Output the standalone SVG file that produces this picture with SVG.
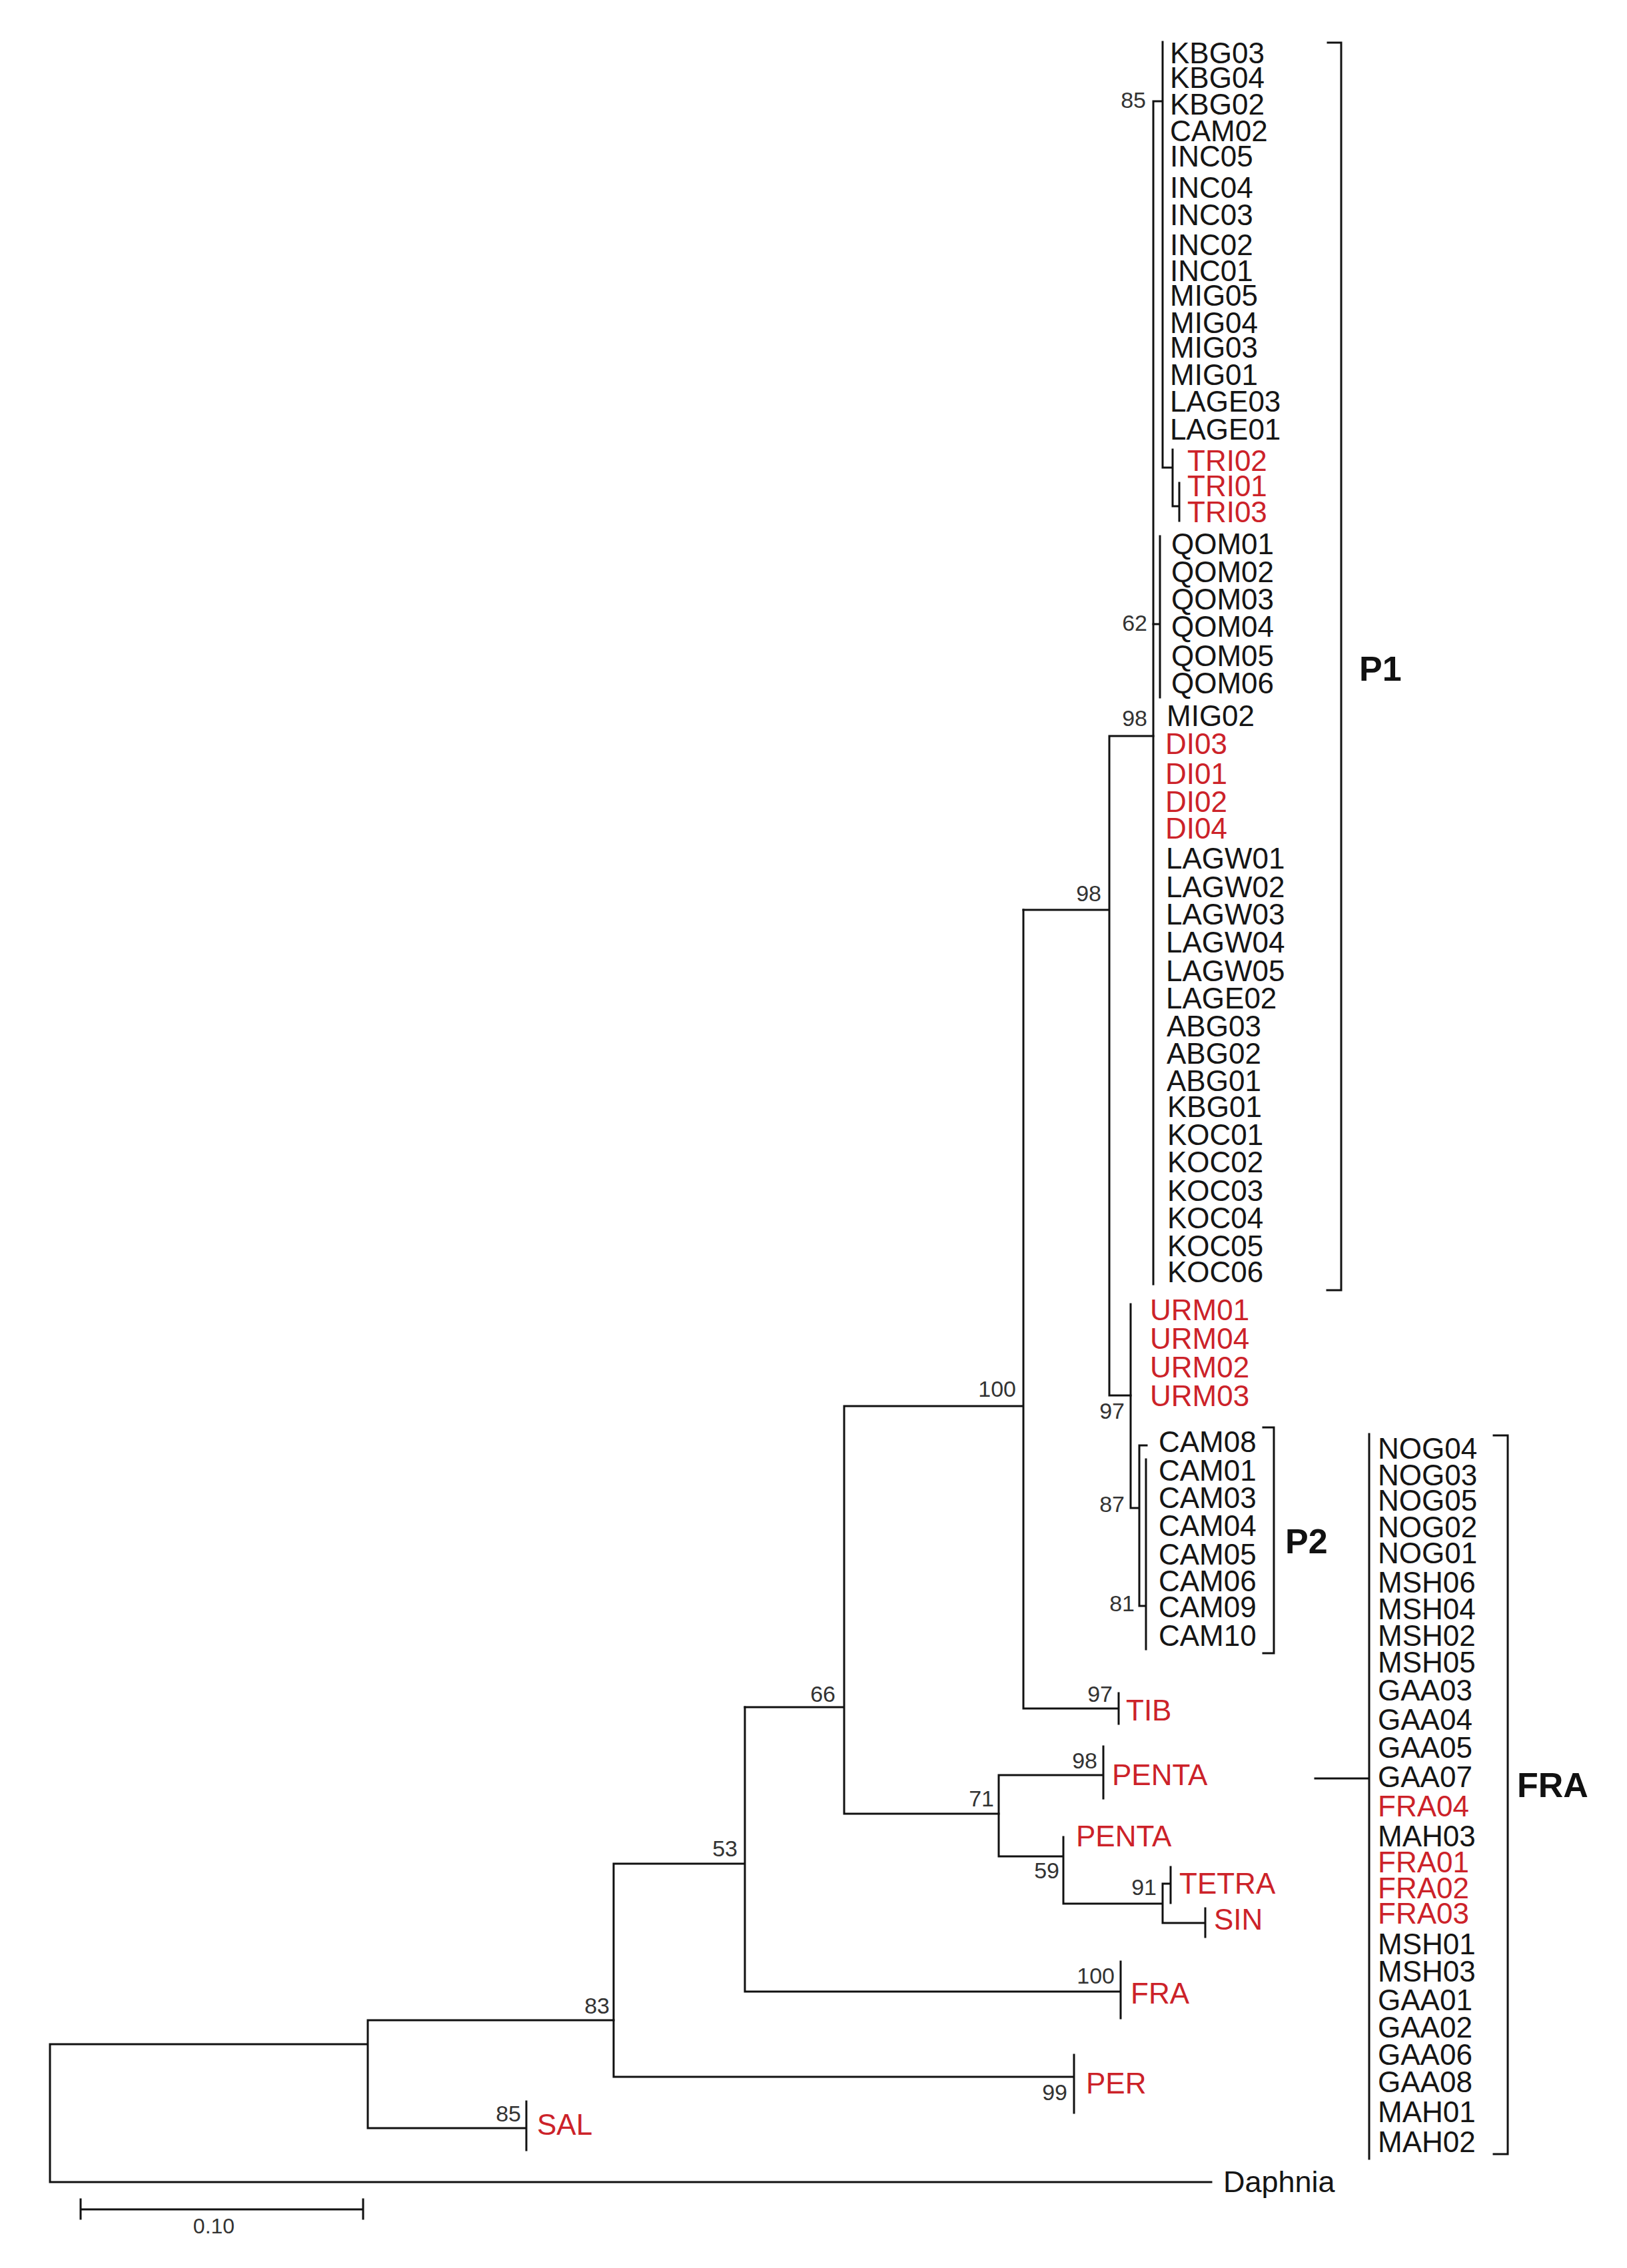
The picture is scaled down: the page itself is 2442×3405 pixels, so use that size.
<svg xmlns="http://www.w3.org/2000/svg" width="2442" height="3405" viewBox="0 0 2442 3405">
<style>
.br{stroke:#111;stroke-width:3;fill:none;stroke-linecap:square}
text{font-family:"Liberation Sans",Arial,sans-serif}
.lf{font-size:44px;fill:#151515}
.r{fill:#cc2229}
.bs{font-size:34px;fill:#333;text-anchor:end}
.cl{font-size:52px;font-weight:bold;fill:#111}
</style>
<rect width="2442" height="3405" fill="#fff"/>
<g id="connectors" class="br">
<path d="M1745,63 V702 H1760 M1731,152 H1745 M1731,152 V1928 M1760,675 V760 H1770 M1770,725 V782"/>
<path d="M1731,937 H1741 M1741,805 V1047 M1665,1105 H1731 M1665,1105 V2095 H1697 M1536,1366 H1665"/>
<path d="M1697,1958 V2264 H1710 M1710,2170 H1721 M1710,2170 V2411 H1720 M1720,2191 V2476"/>
<path d="M1536,1366 V2565 H1679 M1679,2542 V2588 M1267,2111 H1536 M1267,2111 V2723 H1499 M1118,2563 H1267"/>
<path d="M1499,2665 V2787 M1499,2665 H1656 M1656,2622 V2700 M1499,2787 H1596 M1596,2758 V2858 M1596,2858 H1745 M1745,2828 V2887 M1745,2828 H1757 M1757,2803 V2857 M1745,2887 H1809 M1809,2865 V2908"/>
<path d="M1118,2563 V2990 H1682 M1682,2945 V3030 M921,2798 H1118 M921,2798 V3118 H1612 M1612,3085 V3172"/>
<path d="M552,3033 H921 M552,3033 V3195 H790 M790,3155 V3228 M75,3069 H552 M75,3069 V3276 H1818"/>
<path d="M2055,2153 V3241 M1974,2670 H2055"/>
</g>
<g id="brackets" class="br">
<path d="M1993,64 H2013 V1937 H1992"/>
<path d="M1896,2143 H1912 V2482 H1896"/>
<path d="M2242,2155 H2263 V3234 H2242"/>
</g>
<g id="scalebar">
<path class="br" d="M121,3317 H545 M121,3302 V3331 M545,3302 V3331"/>
<text x="321" y="3353" font-size="32" fill="#333" text-anchor="middle">0.10</text>
</g>
<g id="support">
<text class="bs" x="1720" y="162">85</text>
<text class="bs" x="1722" y="947">62</text>
<text class="bs" x="1722" y="1090">98</text>
<text class="bs" x="1653" y="1353">98</text>
<text class="bs" x="1525" y="2097">100</text>
<text class="bs" x="1688" y="2130">97</text>
<text class="bs" x="1688" y="2270">87</text>
<text class="bs" x="1703" y="2419">81</text>
<text class="bs" x="1670" y="2555">97</text>
<text class="bs" x="1254" y="2555">66</text>
<text class="bs" x="1647" y="2655">98</text>
<text class="bs" x="1492" y="2712">71</text>
<text class="bs" x="1590" y="2820">59</text>
<text class="bs" x="1736" y="2845">91</text>
<text class="bs" x="1107" y="2787">53</text>
<text class="bs" x="1673" y="2978">100</text>
<text class="bs" x="915" y="3023">83</text>
<text class="bs" x="1602" y="3153">99</text>
<text class="bs" x="782" y="3185">85</text>
</g>
<g id="P1-leaves" class="lf">
<g id="n-KBG03"><text x="1756" y="95">KBG03</text></g>
<g id="n-KBG04"><text x="1756" y="132">KBG04</text></g>
<g id="n-KBG02"><text x="1756" y="172">KBG02</text></g>
<g id="n-CAM02"><text x="1756" y="212">CAM02</text></g>
<g id="n-INC05"><text x="1756" y="250">INC05</text></g>
<g id="n-INC04"><text x="1756" y="297">INC04</text></g>
<g id="n-INC03"><text x="1756" y="338">INC03</text></g>
<g id="n-INC02"><text x="1756" y="383">INC02</text></g>
<g id="n-INC01"><text x="1756" y="422">INC01</text></g>
<g id="n-MIG05"><text x="1756" y="459">MIG05</text></g>
<g id="n-MIG04"><text x="1756" y="500">MIG04</text></g>
<g id="n-MIG03"><text x="1756" y="537">MIG03</text></g>
<g id="n-MIG01"><text x="1756" y="578">MIG01</text></g>
<g id="n-LAGE03"><text x="1756" y="618">LAGE03</text></g>
<g id="n-LAGE01"><text x="1756" y="660">LAGE01</text></g>
<g id="n-TRI02"><text class="r" x="1782" y="707">TRI02</text></g>
<g id="n-TRI01"><text class="r" x="1782" y="745">TRI01</text></g>
<g id="n-TRI03"><text class="r" x="1782" y="784">TRI03</text></g>
<g id="n-QOM01"><text x="1758" y="832">QOM01</text></g>
<g id="n-QOM02"><text x="1758" y="874">QOM02</text></g>
<g id="n-QOM03"><text x="1758" y="915">QOM03</text></g>
<g id="n-QOM04"><text x="1758" y="956">QOM04</text></g>
<g id="n-QOM05"><text x="1758" y="1000">QOM05</text></g>
<g id="n-QOM06"><text x="1758" y="1041">QOM06</text></g>
<g id="n-MIG02"><text x="1751" y="1090">MIG02</text></g>
<g id="n-DI03"><text class="r" x="1749" y="1132">DI03</text></g>
<g id="n-DI01"><text class="r" x="1749" y="1177">DI01</text></g>
<g id="n-DI02"><text class="r" x="1749" y="1219">DI02</text></g>
<g id="n-DI04"><text class="r" x="1749" y="1259">DI04</text></g>
<g id="n-LAGW01"><text x="1750" y="1304">LAGW01</text></g>
<g id="n-LAGW02"><text x="1750" y="1347">LAGW02</text></g>
<g id="n-LAGW03"><text x="1750" y="1388">LAGW03</text></g>
<g id="n-LAGW04"><text x="1750" y="1430">LAGW04</text></g>
<g id="n-LAGW05"><text x="1750" y="1473">LAGW05</text></g>
<g id="n-LAGE02"><text x="1750" y="1514">LAGE02</text></g>
<g id="n-ABG03"><text x="1751" y="1556">ABG03</text></g>
<g id="n-ABG02"><text x="1751" y="1597">ABG02</text></g>
<g id="n-ABG01"><text x="1751" y="1638">ABG01</text></g>
<g id="n-KBG01"><text x="1752" y="1677">KBG01</text></g>
<g id="n-KOC01"><text x="1752" y="1719">KOC01</text></g>
<g id="n-KOC02"><text x="1752" y="1760">KOC02</text></g>
<g id="n-KOC03"><text x="1752" y="1803">KOC03</text></g>
<g id="n-KOC04"><text x="1752" y="1844">KOC04</text></g>
<g id="n-KOC05"><text x="1752" y="1886">KOC05</text></g>
<g id="n-KOC06"><text x="1752" y="1925">KOC06</text></g>
</g>
<g id="URM-leaves" class="lf">
<g id="n-URM01"><text class="r" x="1726" y="1982">URM01</text></g>
<g id="n-URM04"><text class="r" x="1726" y="2025">URM04</text></g>
<g id="n-URM02"><text class="r" x="1726" y="2068">URM02</text></g>
<g id="n-URM03"><text class="r" x="1726" y="2111">URM03</text></g>
</g>
<g id="P2-leaves" class="lf">
<g id="n-CAM08"><text x="1739" y="2180">CAM08</text></g>
<g id="n-CAM01"><text x="1739" y="2223">CAM01</text></g>
<g id="n-CAM03"><text x="1739" y="2264">CAM03</text></g>
<g id="n-CAM04"><text x="1739" y="2306">CAM04</text></g>
<g id="n-CAM05"><text x="1739" y="2349">CAM05</text></g>
<g id="n-CAM06"><text x="1739" y="2389">CAM06</text></g>
<g id="n-CAM09"><text x="1739" y="2428">CAM09</text></g>
<g id="n-CAM10"><text x="1739" y="2471">CAM10</text></g>
</g>
<g id="lineages" class="lf">
<g id="n-TIB"><text class="r" x="1690" y="2583">TIB</text></g>
<g id="n-PENTA1"><text class="r" x="1669" y="2680">PENTA</text></g>
<g id="n-PENTA2"><text class="r" x="1615" y="2772">PENTA</text></g>
<g id="n-TETRA"><text class="r" x="1770" y="2843">TETRA</text></g>
<g id="n-SIN"><text class="r" x="1822" y="2897">SIN</text></g>
<g id="n-FRA"><text class="r" x="1697" y="3008">FRA</text></g>
<g id="n-PER"><text class="r" x="1630" y="3143">PER</text></g>
<g id="n-SAL"><text class="r" x="806" y="3205">SAL</text></g>
<g id="n-Daphnia"><text x="1836" y="3291" font-size="45">Daphnia</text></g>
</g>
<g id="FRA-leaves" class="lf">
<g id="n-NOG04"><text x="2068" y="2190">NOG04</text></g>
<g id="n-NOG03"><text x="2068" y="2230">NOG03</text></g>
<g id="n-NOG05"><text x="2068" y="2268">NOG05</text></g>
<g id="n-NOG02"><text x="2068" y="2308">NOG02</text></g>
<g id="n-NOG01"><text x="2068" y="2347">NOG01</text></g>
<g id="n-MSH06"><text x="2068" y="2391">MSH06</text></g>
<g id="n-MSH04"><text x="2068" y="2431">MSH04</text></g>
<g id="n-MSH02"><text x="2068" y="2471">MSH02</text></g>
<g id="n-MSH05"><text x="2068" y="2511">MSH05</text></g>
<g id="n-GAA03"><text x="2068" y="2553">GAA03</text></g>
<g id="n-GAA04"><text x="2068" y="2597">GAA04</text></g>
<g id="n-GAA05"><text x="2068" y="2639">GAA05</text></g>
<g id="n-GAA07"><text x="2068" y="2683">GAA07</text></g>
<g id="n-FRA04"><text class="r" x="2068" y="2727">FRA04</text></g>
<g id="n-MAH03"><text x="2068" y="2772">MAH03</text></g>
<g id="n-FRA01"><text class="r" x="2068" y="2811">FRA01</text></g>
<g id="n-FRA02"><text class="r" x="2068" y="2850">FRA02</text></g>
<g id="n-FRA03"><text class="r" x="2068" y="2888">FRA03</text></g>
<g id="n-MSH01"><text x="2068" y="2934">MSH01</text></g>
<g id="n-MSH03"><text x="2068" y="2975">MSH03</text></g>
<g id="n-GAA01"><text x="2068" y="3018">GAA01</text></g>
<g id="n-GAA02"><text x="2068" y="3059">GAA02</text></g>
<g id="n-GAA06"><text x="2068" y="3100">GAA06</text></g>
<g id="n-GAA08"><text x="2068" y="3141">GAA08</text></g>
<g id="n-MAH01"><text x="2068" y="3186">MAH01</text></g>
<g id="n-MAH02"><text x="2068" y="3231">MAH02</text></g>
</g>
<g id="clade-labels">
<g id="c-P1"><text class="cl" x="2040" y="1022">P1</text></g>
<g id="c-P2"><text class="cl" x="1929" y="2332">P2</text></g>
<g id="c-FRA"><text class="cl" x="2277" y="2698">FRA</text></g>
</g>
</svg>
